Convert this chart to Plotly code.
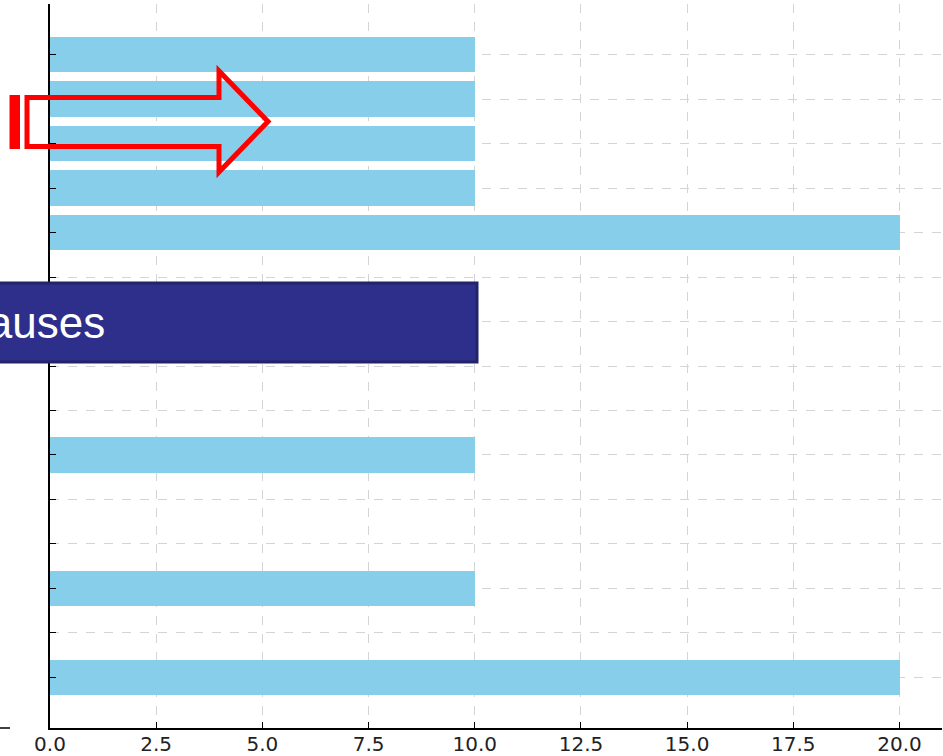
import plotly.graph_objects as go

# Data (top category first)
positions = list(range(15))
values = [10, 10, 10, 10, 20, 0, 0, 0, 0, 10, 0, 0, 10, 0, 20]
x_ticks = [0, 2.5, 5, 7.5, 10, 12.5, 15, 17.5, 20]
x_labels = ["0.0", "2.5", "5.0", "7.5", "10.0", "12.5", "15.0", "17.5", "20.0"]
banner_text = "Causes"

W, H = 943, 756
L, R, T, B = 50, 1, 4, 28
PW, PH = W - L - R, H - T - B


def px(x):
    """Pixel x -> paper x."""
    return (x - L) / PW


def py(y):
    """Pixel y -> paper y."""
    return (H - B - y) / PH


fig = go.Figure()

fig.add_trace(
    go.Bar(
        x=values,
        y=positions,
        orientation="h",
        width=0.8,
        marker=dict(color="#87ceeb", line=dict(width=0)),
        showlegend=False,
    )
)

fig.update_xaxes(
    range=[0, 21],
    tickvals=x_ticks,
    ticktext=x_labels,
    ticks="inside",
    ticklen=6,
    tickcolor="black",
    tickfont=dict(family="DejaVu Sans", size=20, color="#222222"),
    ticklabelstandoff=-3,
    showline=True,
    linecolor="black",
    linewidth=1.5,
    showgrid=True,
    gridcolor="#d4d4d4",
    griddash="dash",
    gridwidth=1,
    zeroline=False,
)
fig.update_yaxes(
    range=[15.14, -1.14],
    tickvals=positions,
    showticklabels=False,
    ticks="inside",
    ticklen=6,
    tickcolor="black",
    showline=True,
    linecolor="black",
    linewidth=1.5,
    showgrid=True,
    gridcolor="#d4d4d4",
    griddash="dash",
    gridwidth=1,
    zeroline=False,
)

# Navy banner, cut off at the left edge
fig.add_shape(
    type="rect",
    xref="paper", yref="paper",
    x0=px(-40), x1=px(477), y0=py(362), y1=py(283),
    fillcolor="#2e2f8a",
    line=dict(color="#22246a", width=3),
    layer="above",
)
fig.add_annotation(
    xref="paper", yref="paper",
    x=px(107), y=py(322),
    xanchor="right", yanchor="middle",
    text=banner_text,
    showarrow=False,
    font=dict(family="Liberation Sans", size=44, color="white"),
)

# Red outlined arrow
arrow = [(27, 97.5), (219, 97.5), (219, 71), (268, 121.5), (219, 172), (219, 146.5), (27, 146.5)]
path = "M " + " L ".join(f"{px(x)},{py(y)}" for x, y in arrow) + " Z"
fig.add_shape(
    type="path",
    xref="paper", yref="paper",
    path=path,
    line=dict(color="#ff0000", width=5),
    fillcolor="rgba(0,0,0,0)",
    layer="above",
)
fig.add_shape(
    type="rect",
    xref="paper", yref="paper",
    x0=px(9.5), x1=px(20), y0=py(149), y1=py(95),
    fillcolor="#ff0000",
    line=dict(width=0),
    layer="above",
)

# small stub of the x axis left of the frame
fig.add_shape(
    type="line",
    xref="paper", yref="paper",
    x0=px(0), x1=px(10), y0=0, y1=0,
    line=dict(color="black", width=1.5),
)

fig.update_layout(
    width=W,
    height=H,
    margin=dict(l=L, r=R, t=T, b=B, autoexpand=False),
    plot_bgcolor="white",
    paper_bgcolor="white",
    bargap=0,
)

fig.write_html(
    "out.html",
    config={"displayModeBar": False},
    post_script="document.body.style.margin = '0';",
)
